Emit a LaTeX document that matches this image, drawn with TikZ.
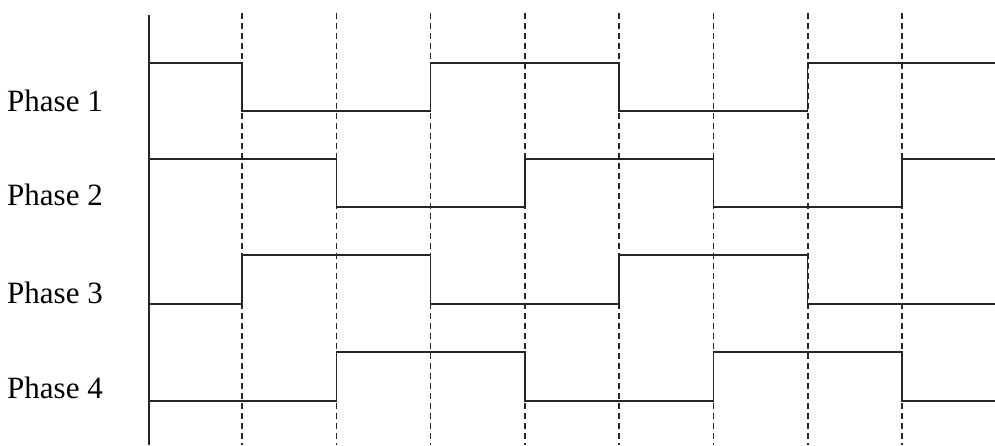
\documentclass[tikz,border=0pt]{standalone}
\usepackage{fontspec}
\setmainfont{Liberation Serif}
\begin{document}
\begin{tikzpicture}[x=1pt, y=-1pt,
    sig/.style={line width=1.4pt, black!85, line join=miter},
    guide/.style={line width=1.5pt, black!85, dash pattern=on 6pt off 4pt},
    axis/.style={line width=1.3pt, black!85},
    lab/.style={anchor=west, inner sep=0pt, font=\fontsize{31}{31}\selectfont}]

  \useasboundingbox (0,0) rectangle (995,445);

  %% Axis and time marks
  \coordinate (top) at (149,15);
  \coordinate (bot) at (149,445);
  \draw[axis] (top) -- (bot);
  \foreach \k in {0,...,7}
    \draw[guide] (242+94.29*\k,13) -- (242+94.29*\k,445);

  %% Labels
  \node[lab] (p1) at (7,101) {Phase 1};
  \node[lab] (p2) at (7,195) {Phase 2};
  \node[lab] (p3) at (7,293) {Phase 3};
  \node[lab] (p4) at (7,388) {Phase 4};

  %% Phase 1
  \draw[sig] (149,63) -- (242,63) -- (242,111) -- (430.6,111) -- (430.6,63)
    -- (619.1,63) -- (619.1,111) -- (807.7,111) -- (807.7,63) -- (995,63);

  %% Phase 2
  \draw[sig] (149,159) -- (336.3,159) -- (336.3,207) -- (524.9,207) -- (524.9,159)
    -- (713.4,159) -- (713.4,207) -- (902,207) -- (902,159) -- (995,159);

  %% Phase 3
  \draw[sig] (149,304) -- (242,304) -- (242,255) -- (430.6,255) -- (430.6,304)
    -- (619.1,304) -- (619.1,255) -- (807.7,255) -- (807.7,304) -- (995,304);

  %% Phase 4
  \draw[sig] (149,401) -- (336.3,401) -- (336.3,352) -- (524.9,352) -- (524.9,401)
    -- (713.4,401) -- (713.4,352) -- (902,352) -- (902,401) -- (995,401);
\end{tikzpicture}
\end{document}
